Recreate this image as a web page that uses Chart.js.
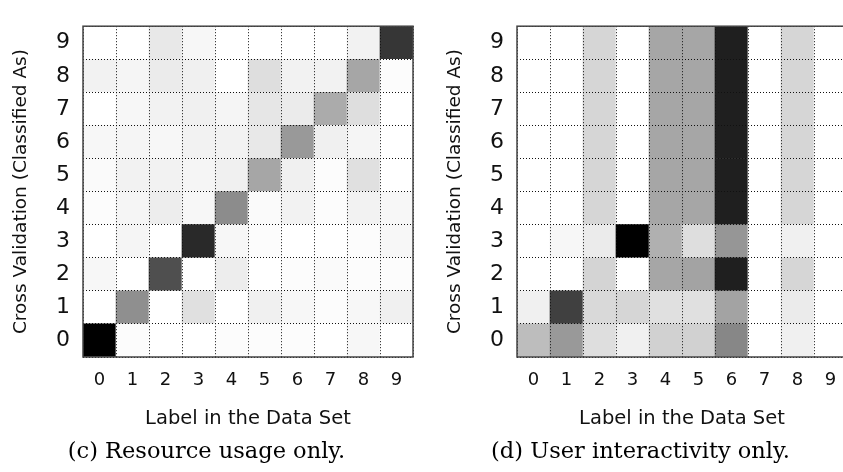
<!DOCTYPE html>
<html>
<head>
<meta charset="utf-8">
<script src="https://cdn.jsdelivr.net/npm/chart.js@4"></script>
<style>
  body { margin: 0; background: #fff; overflow: hidden; width: 843px; height: 472px; position: relative; }
  .panel { position: absolute; top: 0; width: 420px; height: 472px; }
</style>
</head>
<body>
<div class="panel" style="left:0"><canvas id="resourceUsage" width="420" height="472"></canvas></div>
<div class="panel" style="left:434px"><canvas id="userInteractivity" width="420" height="472"></canvas></div>
<script>
const labels = ["0", "1", "2", "3", "4", "5", "6", "7", "8", "9"];

// share of each label (column) classified as row class, row 0 first
const resourceRows = [
  [1.00, 0.01, 0.00, 0.00, 0.01, 0.01, 0.01, 0.00, 0.03, 0.00],
  [0.00, 0.44, 0.00, 0.12, 0.00, 0.06, 0.03, 0.01, 0.03, 0.06],
  [0.03, 0.00, 0.69, 0.00, 0.07, 0.00, 0.01, 0.02, 0.01, 0.01],
  [0.00, 0.04, 0.00, 0.84, 0.03, 0.01, 0.00, 0.00, 0.01, 0.03],
  [0.01, 0.04, 0.07, 0.03, 0.45, 0.02, 0.05, 0.01, 0.05, 0.03],
  [0.02, 0.05, 0.05, 0.04, 0.06, 0.35, 0.06, 0.01, 0.12, 0.00],
  [0.03, 0.04, 0.03, 0.05, 0.05, 0.09, 0.40, 0.06, 0.04, 0.00],
  [0.00, 0.03, 0.05, 0.06, 0.04, 0.10, 0.08, 0.33, 0.13, 0.00],
  [0.05, 0.04, 0.08, 0.06, 0.00, 0.13, 0.05, 0.05, 0.35, 0.01],
  [0.00, 0.00, 0.09, 0.03, 0.00, 0.00, 0.00, 0.00, 0.05, 0.79],
];

const interactivityRows = [
  [0.26, 0.40, 0.13, 0.06, 0.18, 0.18, 0.47, 0.00, 0.06, 0.00],
  [0.06, 0.75, 0.15, 0.16, 0.12, 0.12, 0.36, 0.00, 0.08, 0.00],
  [0.00, 0.00, 0.17, 0.00, 0.35, 0.36, 0.88, 0.00, 0.16, 0.00],
  [0.00, 0.03, 0.08, 1.00, 0.31, 0.13, 0.41, 0.00, 0.06, 0.00],
  [0.00, 0.00, 0.16, 0.00, 0.35, 0.35, 0.88, 0.00, 0.16, 0.00],
  [0.00, 0.00, 0.16, 0.00, 0.35, 0.35, 0.88, 0.00, 0.16, 0.00],
  [0.00, 0.00, 0.16, 0.00, 0.35, 0.35, 0.88, 0.00, 0.16, 0.00],
  [0.00, 0.00, 0.16, 0.00, 0.35, 0.35, 0.88, 0.00, 0.16, 0.00],
  [0.00, 0.00, 0.16, 0.00, 0.35, 0.35, 0.88, 0.00, 0.16, 0.00],
  [0.00, 0.00, 0.16, 0.00, 0.35, 0.35, 0.88, 0.00, 0.16, 0.00],
];

function gray(v) {
  const g = Math.round(255 * (1 - v));
  return "rgb(" + g + "," + g + "," + g + ")";
}

// plot frame on top of everything
const framePlugin = {
  id: "frame",
  afterDraw(chart) {
    const { ctx, chartArea: a } = chart;
    ctx.save();
    ctx.strokeStyle = "#444";
    ctx.lineWidth = 1.5;
    ctx.strokeRect(a.left, a.top, a.right - a.left, a.bottom - a.top);
    ctx.restore();
  },
};

function makeMatrix(id, rows, caption) {
  const ctx = document.getElementById(id).getContext("2d");
  return new Chart(ctx, {
    type: "bar",
    data: {
      labels: labels,
      datasets: rows.map((row, r) => ({
        label: "row " + r,
        data: row.map(() => [r, r + 1]),
        backgroundColor: row.map(gray),
        borderWidth: 0,
        barPercentage: 1,
        categoryPercentage: 1,
        grouped: false,
      })),
    },
    options: {
      responsive: false,
      animation: false,
      devicePixelRatio: 1,
      layout: { padding: { top: 10, right: 7, left: 0, bottom: 0 } },
      scales: {
        x: {
          offset: true,
          grid: { z: 1, offset: true, color: "#111", lineWidth: 1, drawTicks: false },
          border: { display: false, dash: [1, 2] },
          ticks: { color: "#111", padding: 13, font: { family: "DejaVu Sans", size: 18 } },
          title: {
            display: true,
            text: "Label in the Data Set",
            color: "#111",
            font: { family: "DejaVu Sans", size: 19.5 },
            padding: { top: 0, bottom: 1 },
          },
          afterFit(scale) {
            scale.height = 75;
          },
        },
        y: {
          min: 0,
          max: 10,
          grid: {
            z: 1,
            color: (c) => (c.tick && c.tick.value % 1 === 0 ? "#111" : "transparent"),
            lineWidth: 1,
            drawTicks: false,
          },
          border: { display: false, dash: [1, 2] },
          ticks: {
            stepSize: 0.5,
            autoSkip: false,
            padding: 13,
            color: "#111",
            font: { family: "DejaVu Sans", size: 22 },
            callback: (value) => (value % 1 === 0.5 ? String(value - 0.5) : ""),
          },
          title: {
            display: true,
            text: "Cross Validation (Classified As)",
            color: "#111",
            font: { family: "DejaVu Sans", size: 18.5 },
            padding: { top: 10, bottom: 0 },
          },
          afterFit(scale) {
            scale.width = 83;
          },
        },
      },
      plugins: {
        legend: { display: false },
        tooltip: { enabled: false },
        title: {
          display: true,
          position: "bottom",
          text: caption,
          color: "#000",
          font: { family: "DejaVu Serif", size: 22.5, weight: "normal" },
          padding: { top: 6.5, bottom: 6.5 },
        },
      },
    },
    plugins: [framePlugin],
  });
}

const resourceUsage = makeMatrix("resourceUsage", resourceRows, "(c) Resource usage only.");
const userInteractivity = makeMatrix("userInteractivity", interactivityRows, "(d) User interactivity only.");
</script>
</body>
</html>
